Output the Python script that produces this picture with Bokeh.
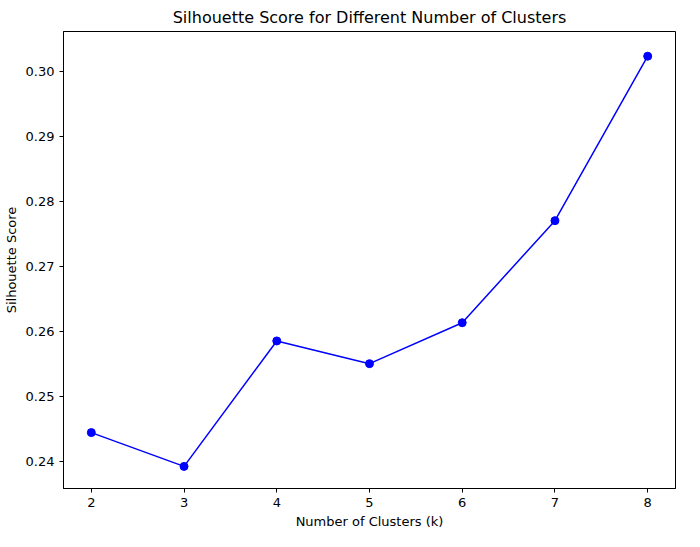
from bokeh.plotting import figure
from bokeh.embed import file_html
from bokeh.resources import INLINE
from bokeh.models import FixedTicker, CustomJSTickFormatter

k_values = [2, 3, 4, 5, 6, 7, 8]
scores = [0.2445, 0.2393, 0.2586, 0.2551, 0.2614, 0.2771, 0.3024]
y_ticks = [0.24, 0.25, 0.26, 0.27, 0.28, 0.29, 0.30]

p = figure(width=684, height=531, output_backend="svg", toolbar_location=None,
           x_range=(1.7, 8.3), y_range=(0.2359, 0.3062),
           title="Silhouette Score for Different Number of Clusters",
           min_border_left=16, min_border_right=9, min_border_top=0, min_border_bottom=0)
p.title.align = "center"
p.title.text_font = "DejaVu Sans"
p.title.text_font_size = "16px"
p.title.text_font_style = "normal"
p.title.text_color = "black"
p.line(k_values, scores, line_color="blue", line_width=1.5)
p.scatter(k_values, scores, size=8, fill_color="blue", line_color="blue")

p.xaxis.ticker = FixedTicker(ticks=k_values)
p.yaxis.ticker = FixedTicker(ticks=y_ticks)
p.yaxis.formatter = CustomJSTickFormatter(code="return tick.toFixed(2);")
p.xaxis.axis_label = "Number of Clusters (k)"
p.yaxis.axis_label = "Silhouette Score"
for ax in (p.xaxis, p.yaxis):
    ax.axis_label_text_font = "DejaVu Sans"
    ax.axis_label_text_font_size = "13px"
    ax.axis_label_text_font_style = "normal"
    ax.axis_label_text_color = "black"
    ax.major_label_text_font = "DejaVu Sans"
    ax.major_label_text_font_size = "13px"
    ax.major_label_text_color = "black"
    ax.minor_tick_line_color = None
    ax.major_tick_in = 0
    ax.major_tick_out = 4
    ax.axis_line_color = "black"
    ax.axis_label_standoff = 4
p.xgrid.visible = False
p.ygrid.visible = False
p.outline_line_color = "black"
p.outline_line_alpha = 1

open("out.html", "w").write(file_html(p, INLINE))
